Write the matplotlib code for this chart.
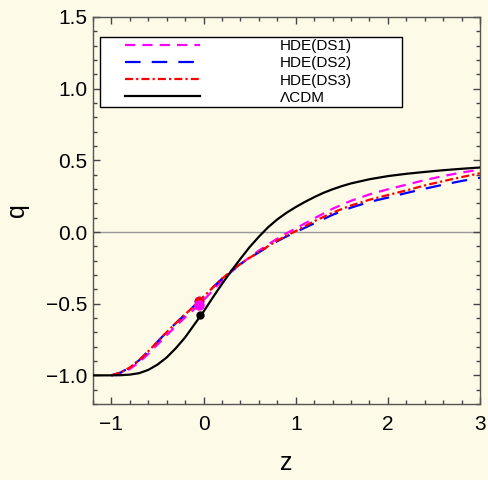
import numpy as np
import matplotlib
matplotlib.use("Agg")
import matplotlib.pyplot as plt
from matplotlib.patches import Rectangle
from matplotlib.ticker import MultipleLocator

plt.rcParams['font.family'] = ['Liberation Sans', 'DejaVu Sans']

# deceleration parameter q(z)
z_lcdm = [-1.2, -1.1, -1.0, -0.9, -0.8, -0.7, -0.6, -0.5, -0.4, -0.3, -0.2, -0.1, 0.0,
          0.1, 0.2, 0.3, 0.4, 0.5, 0.6, 0.7, 0.8, 0.9, 1.0, 1.1, 1.2, 1.3, 1.4, 1.5, 1.6,
          1.8, 2.0, 2.2, 2.4, 2.6, 2.8, 3.0]
q_lcdm = [-1.0, -1.0, -1.0, -0.999, -0.995, -0.985, -0.962, -0.925, -0.875, -0.81, -0.735,
          -0.645, -0.555, -0.457, -0.362, -0.272, -0.187, -0.105, -0.033, 0.033, 0.088,
          0.134, 0.174, 0.21, 0.243, 0.273, 0.298, 0.32, 0.339, 0.368, 0.39, 0.406, 0.419,
          0.431, 0.441, 0.45]

z_hde = [-1.0, -0.9, -0.8, -0.7, -0.6, -0.5, -0.4, -0.3, -0.2, -0.1, 0.0, 0.1, 0.2, 0.3,
         0.4, 0.5, 0.6, 0.7, 0.8, 0.9, 1.0, 1.2, 1.4, 1.6, 1.8, 2.0, 2.2, 2.4, 2.6, 2.8, 3.0]
q_ds1 = [-1.0, -0.985, -0.955, -0.91, -0.85, -0.785, -0.72, -0.656, -0.595, -0.537, -0.476,
         -0.407, -0.34, -0.279, -0.225, -0.176, -0.13, -0.087, -0.046, -0.009, 0.025, 0.095,
         0.162, 0.218, 0.262, 0.298, 0.33, 0.362, 0.39, 0.415, 0.435]
q_ds2 = [-1.0, -0.98, -0.945, -0.895, -0.832, -0.765, -0.698, -0.635, -0.575, -0.514, -0.452,
         -0.387, -0.326, -0.271, -0.223, -0.181, -0.142, -0.102, -0.064, -0.031, 0.0, 0.06,
         0.12, 0.17, 0.21, 0.24, 0.272, 0.302, 0.33, 0.356, 0.378]
q_ds3 = [-1.0, -0.98, -0.945, -0.895, -0.832, -0.765, -0.698, -0.635, -0.575, -0.514, -0.452,
         -0.387, -0.326, -0.271, -0.222, -0.18, -0.14, -0.099, -0.059, -0.025, 0.006, 0.075,
         0.135, 0.185, 0.225, 0.258, 0.29, 0.325, 0.355, 0.383, 0.41]

# present-day points (DS3, DS2, DS1, LCDM)
z_now = [-0.05, -0.05, -0.05, -0.04]
q_now = [-0.484, -0.484, -0.507, -0.58]

labels = ["HDE(DS1)", "HDE(DS2)", "HDE(DS3)", "ΛCDM"]

bg = '#fefae8'
fig = plt.figure(figsize=(4.89, 4.80), dpi=100, facecolor=bg)
ax = fig.add_axes([0.1902, 0.1583, 0.7914, 0.8063], facecolor=bg)

ax.axhline(0.0, color='#999999', lw=1.0, zorder=1)

l1, = ax.plot(z_hde, q_ds1, color='#ff00ff', lw=1.6, dashes=(4.6, 3.2), zorder=3)
l2, = ax.plot(z_hde, q_ds2, color='#0000ff', lw=1.6, dashes=(7.0, 5.0), zorder=3)
l3, = ax.plot(z_hde, q_ds3, color='#ff0000', lw=1.6, dashes=(3.6, 1.4, 1.0, 1.4), zorder=4)
l4, = ax.plot(z_lcdm, q_lcdm, color='black', lw=1.6, zorder=5)

ax.plot(z_now[1], q_now[1], 'o', color='#0000ff', ms=6, zorder=6)
ax.plot(z_now[0], q_now[0], 'o', color='#ff0000', ms=6, zorder=6)
ax.plot(z_now[2], q_now[2], 'o', color='#ff00ff', ms=6.5, zorder=7)
ax.plot(z_now[3], q_now[3], 'o', color='black', ms=5, zorder=7)

ax.set_xlim(-1.2, 3.0)
ax.set_ylim(-1.2, 1.5)
ax.xaxis.set_major_locator(MultipleLocator(1))
ax.xaxis.set_minor_locator(MultipleLocator(0.2))
ax.yaxis.set_major_locator(MultipleLocator(0.5))
ax.yaxis.set_minor_locator(MultipleLocator(0.1))
ax.tick_params(which='both', direction='in', top=True, right=True, color='#444444',
               labelsize=15, width=1.0)
ax.tick_params(which='major', length=5)
ax.tick_params(which='minor', length=3)
ax.tick_params(axis='x', pad=8)
ax.tick_params(axis='y', pad=4)
for s in ax.spines.values():
    s.set_color('#555555')
    s.set_linewidth(1.0)

ax.set_xlabel('z', fontsize=18, labelpad=12)
ax.set_ylabel('q', fontsize=18, labelpad=12)

# legend frame drawn separately so the entries sit left inside a wide box
ax.add_patch(Rectangle((0.018, 0.767), 0.78, 0.181, transform=ax.transAxes,
                       facecolor='white', edgecolor='black', lw=1.0, zorder=8))
leg = ax.legend([l1, l2, l3, l4], labels, loc='upper left',
                bbox_to_anchor=(0.083, 0.942), frameon=False, fontsize=11,
                borderpad=0, borderaxespad=0, handlelength=4.9, handletextpad=5.2,
                labelspacing=0.2)
leg.set_zorder(9)

fig.savefig('out.png', dpi=100, facecolor=bg)
